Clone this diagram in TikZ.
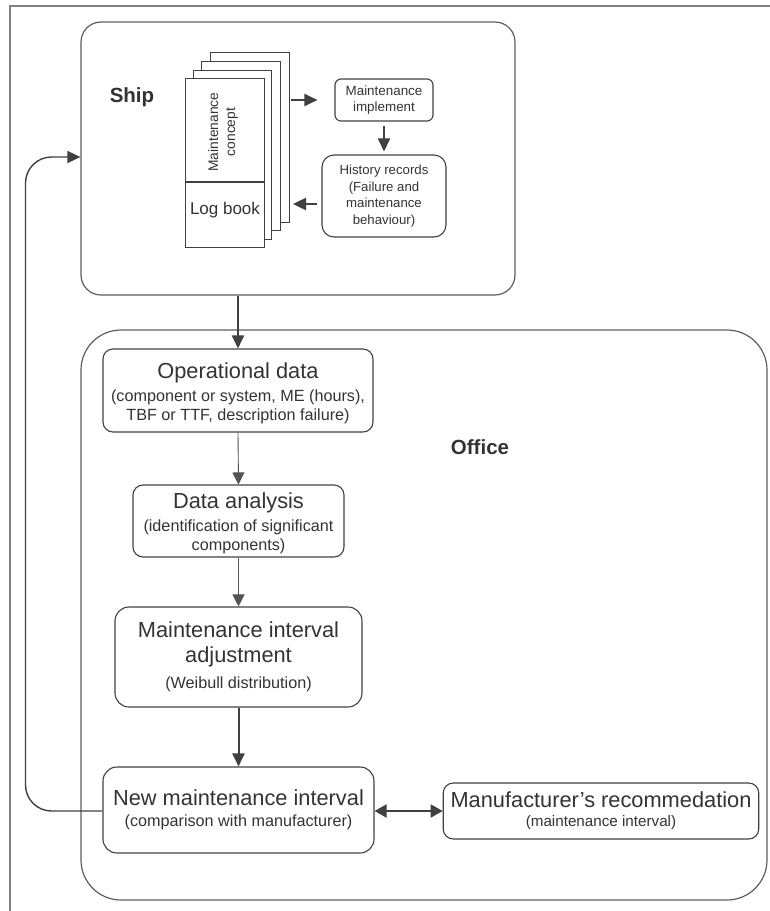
\documentclass[tikz,border=0pt]{standalone}
\usepackage{fontspec}
\setmainfont{Liberation Sans}
\usetikzlibrary{arrows.meta}
\definecolor{txt}{HTML}{333333}
\definecolor{ln}{HTML}{404040}
\definecolor{frm}{HTML}{808080}
\tikzset{
  box/.style={draw=ln,line width=1.1pt,rounded corners=10pt,text=txt,align=center,inner sep=0pt,font=\fontsize{16.2}{19}\selectfont},
  page/.style={draw=ln,line width=1pt,fill=white},
  region/.style={draw=ln!85,line width=1.2pt},
  thickarr/.style={draw=ln,line width=2pt,-{Triangle[length=13pt,width=12pt]}},
  thinarr/.style={draw=ln!90,line width=0.9pt,-{Triangle[length=12pt,width=12pt]}},
  lbl/.style={text=txt,font=\bfseries\fontsize{20.5}{24}\selectfont},
}
\newcommand{\ttl}[1]{{\fontsize{21.8}{25}\selectfont #1}}
\begin{document}
\begin{tikzpicture}[x=1pt,y=-1pt]
\useasboundingbox (0,0) rectangle (770,911);
% outer frame (top and left edges)
\draw[frm,line width=2pt] (10,920) -- (10,6) -- (780,6);

% ship region
\node[region,rounded corners=20pt,minimum width=434pt,minimum height=273pt,inner sep=0pt] (ship) at (298,158.5) {};
\node[lbl] (shiplbl) at (132,97) {Ship};

% office region
\node[region,rounded corners=40pt,minimum width=686pt,minimum height=570pt,inner sep=0pt] (office) at (424,615) {};
\node[lbl] (officelbl) at (480,447) {Office};

% document stack
\draw[page] (210,52) rectangle (289,222);
\draw[page] (201,61) rectangle (280,230);
\draw[page] (193.5,70) rectangle (271.6,239);
\node[page,minimum width=79pt,minimum height=169pt,inner sep=0pt] (doc) at (224.5,162.5) {};
\draw[ln,line width=1.6pt] (185,182) -- (264,182);
\node[text=txt,rotate=90,align=center,font=\fontsize{13.8}{17}\selectfont] (concept) at (223,132) {Maintenance\\concept};
\node[text=txt,font=\fontsize{17}{20}\selectfont] (logbook) at (225,210) {Log book};

\node[box,rounded corners=6pt,minimum width=98pt,minimum height=42pt,font=\fontsize{13.4}{16.5}\selectfont] (mi) at (384,100) {Maintenance\\implement};
\node[box,rounded corners=12pt,minimum width=124pt,minimum height=82pt,font=\fontsize{13.2}{16.5}\selectfont] (hr) at (384,196) {History records\\(Failure and\\maintenance\\behaviour)};

\coordinate (stackR) at (289,100);
\coordinate (stackR2) at (289,204);
\draw[thickarr,line width=2.4pt,shorten <=2pt,shorten >=17pt] (stackR) -- (mi.west);
\draw[thickarr,line width=2.4pt,shorten <=4pt,shorten >=3pt] (mi.south) -- (hr.north);
\draw[thickarr,line width=2.4pt,shorten <=4pt,shorten >=4pt] (hr.west |- stackR2) -- (stackR2);

% office boxes
\node[box,minimum width=270pt,minimum height=83pt] (op) at (238,390.5)
  {\rule{0pt}{22pt}\ttl{Operational data}\\[4pt](component or system, ME (hours),\\TBF or TTF, description failure)};
\node[box,minimum width=211pt,minimum height=72pt] (da) at (238.5,521)
  {\rule{0pt}{21pt}\ttl{Data analysis}\\[4pt](identification of significant\\components)};
\node[box,rounded corners=14pt,minimum width=247pt,minimum height=100pt] (mia) at (238.5,657)
  {\ttl{Maintenance interval}\\[6pt]\ttl{adjustment}\\[7pt](Weibull distribution)};
\node[box,rounded corners=14pt,minimum width=271pt,minimum height=86pt] (nmi) at (238.5,810)
  {\ttl{New maintenance interval}\\[2pt](comparison with manufacturer)};
\node[box,rounded corners=10pt,minimum width=315.5pt,minimum height=56pt,font=\fontsize{15.2}{19}\selectfont] (mr) at (601,811)
  {\ttl{Manufacturer’s recommedation}\\[0pt](maintenance interval)};

% connectors
\draw[thickarr] (op.north |- ship.south) -- (op.north);
\draw[thinarr] (op.south) -- (da.north);
\draw[thinarr] (da.south) -- (mia.north);
\draw[thickarr] (mia.south) -- (nmi.north);
\draw[draw=ln,line width=2pt,{Triangle[length=12pt,width=13pt]}-{Triangle[length=12pt,width=13pt]}] (nmi.east |- mr.west) -- (mr.west);
\coordinate (loopB) at (25.5,811);
\coordinate (loopT) at (25.5,157);
\draw[thickarr,line width=1.4pt,rounded corners=26pt] (nmi.west |- loopB) -- (loopB) -- (loopT) -- (ship.west |- loopT);
\end{tikzpicture}
\end{document}
